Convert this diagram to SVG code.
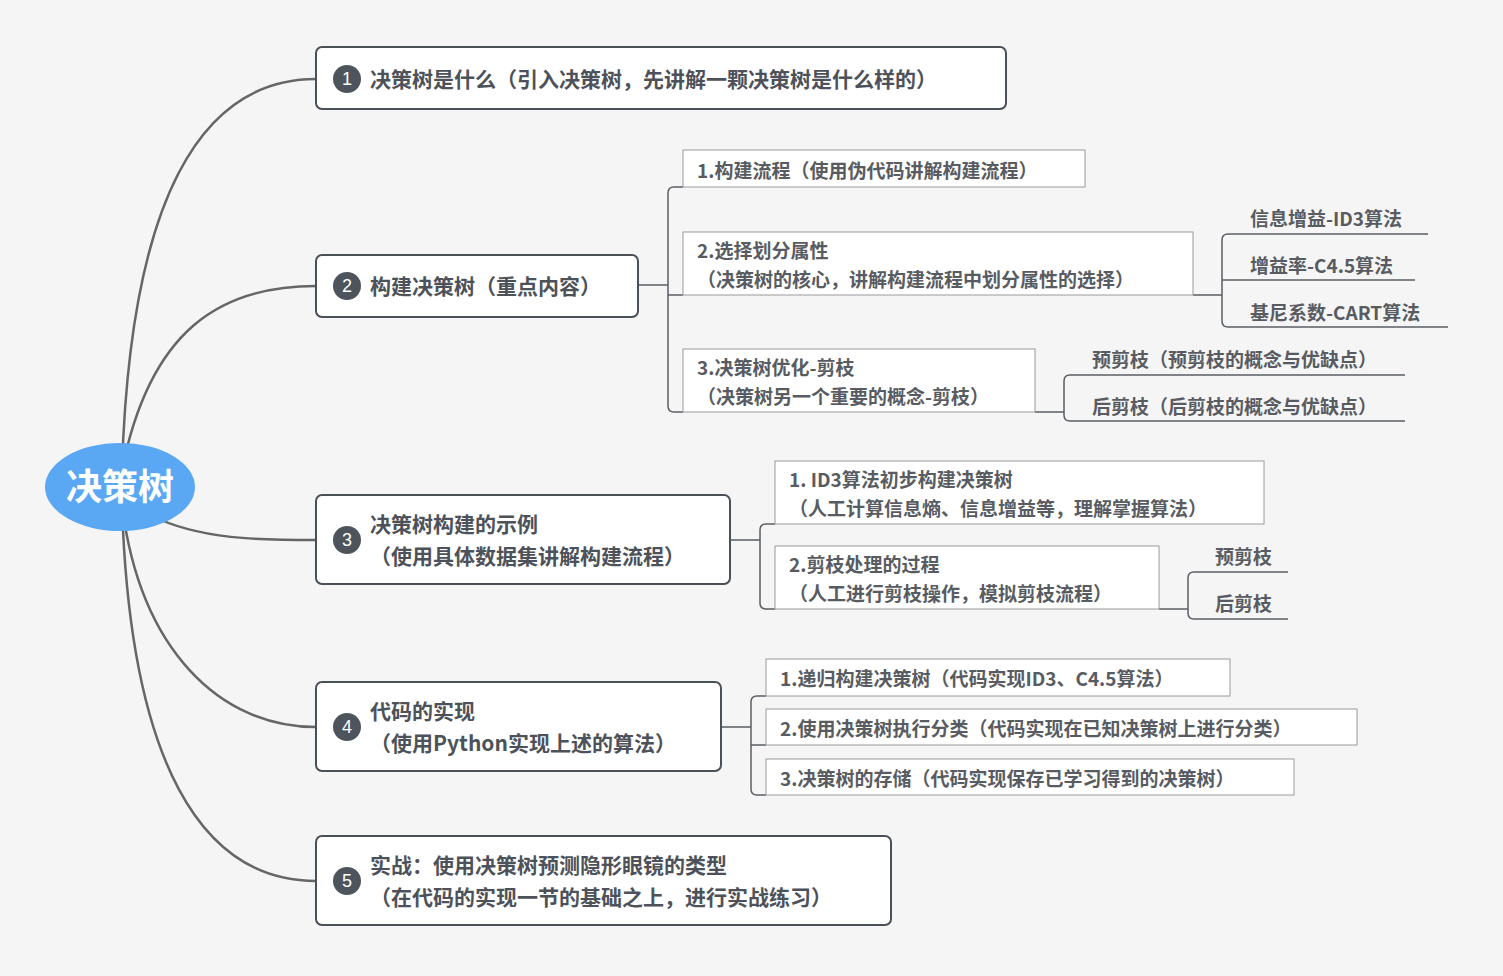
<svg xmlns="http://www.w3.org/2000/svg" width="1503" height="976" viewBox="0 0 1503 976">
<style>
text{font-family:"Noto Sans CJK SC","Liberation Sans",sans-serif;font-weight:bold;fill:#4d525a}
.t1{font-size:21px}
.t2{font-size:19px;fill:#585c62}
.b1{fill:#fff;stroke:#4a5058;stroke-width:2}
.b2{fill:#fff;stroke:#9a9a9a;stroke-width:1}
.c{fill:none;stroke:#666;stroke-width:2.5}
.l{fill:none;stroke:#5a5f66;stroke-width:1.5}
.n{fill:#4d545c}
.nt{fill:#fff;font-size:18px;font-weight:normal;font-family:"Liberation Sans",sans-serif}
</style>
<rect width="1503" height="976" fill="#f5f5f5"/>
<g id="connectors">
<path class="c" d="M122,470 C130,200 200,79 316,79"/>
<path class="c" d="M122,470 C150,330 220,286 316,286"/>
<path class="c" d="M150,515 C200,540 260,540 316,540"/>
<path class="c" d="M122,505 C140,650 220,727 316,727"/>
<path class="c" d="M122,505 C130,760 200,881 316,881"/>
<path class="l" d="M638,285 H668 M683,187 H674 Q668,187 668,193 V406 Q668,412 674,412 H683 M668,295 H683"/>
<path class="l" d="M1193,295 H1222 M1428,234 H1228 Q1222,234 1222,240 V321 Q1222,327 1228,327 H1448 M1222,280 H1415"/>
<path class="l" d="M1035,412 H1064 M1405,375 H1070 Q1064,375 1064,381 V415 Q1064,421 1070,421 H1405"/>
<path class="l" d="M730,540 H760 M775,524 H766 Q760,524 760,530 V603 Q760,609 766,609 H775"/>
<path class="l" d="M1159,609 H1188 M1288,572 H1194 Q1188,572 1188,578 V613 Q1188,619 1194,619 H1288"/>
<path class="l" d="M721,727 H751 M766,696 H757 Q751,696 751,702 V789 Q751,795 757,795 H766 M751,745 H766"/>
</g>
<g id="root">
<ellipse cx="120" cy="487" rx="75" ry="44" fill="#5aa8f3"/>
<text x="120" y="500" text-anchor="middle" style="font-size:36px;fill:#fff">决策树</text>
</g>
<g id="n1"><rect class="b1" x="316" y="47" width="690" height="62" rx="6"/><circle class="n" cx="347" cy="79" r="14"/><text class="nt" x="347" y="85" text-anchor="middle">1</text><text class="t1" x="370" y="87">决策树是什么（引入决策树，先讲解一颗决策树是什么样的）</text></g>
<g id="n2"><rect class="b1" x="316" y="255" width="322" height="62" rx="6"/><circle class="n" cx="347" cy="286" r="14"/><text class="nt" x="347" y="292" text-anchor="middle">2</text><text class="t1" x="370" y="294">构建决策树（重点内容）</text></g>
<g id="n3"><rect class="b1" x="316" y="495" width="414" height="89" rx="6"/><circle class="n" cx="347" cy="540" r="14"/><text class="nt" x="347" y="546" text-anchor="middle">3</text><text class="t1" x="370" y="532">决策树构建的示例</text><text class="t1" x="370" y="564">（使用具体数据集讲解构建流程）</text></g>
<g id="n4"><rect class="b1" x="316" y="682" width="405" height="89" rx="6"/><circle class="n" cx="347" cy="727" r="14"/><text class="nt" x="347" y="733" text-anchor="middle">4</text><text class="t1" x="370" y="719">代码的实现</text><text class="t1" x="370" y="751">（使用Python实现上述的算法）</text></g>
<g id="n5"><rect class="b1" x="316" y="836" width="575" height="89" rx="6"/><circle class="n" cx="347" cy="881" r="14"/><text class="nt" x="347" y="887" text-anchor="middle">5</text><text class="t1" x="370" y="873">实战：使用决策树预测隐形眼镜的类型</text><text class="t1" x="370" y="905">（在代码的实现一节的基础之上，进行实战练习）</text></g>
<g id="n2a"><rect class="b2" x="683" y="150" width="402" height="37"/><text class="t2" x="697" y="178">1.构建流程（使用伪代码讲解构建流程）</text></g>
<g id="n2b"><rect class="b2" x="683" y="232" width="510" height="63"/><text class="t2" x="697" y="258">2.选择划分属性</text><text class="t2" x="697" y="287">（决策树的核心，讲解构建流程中划分属性的选择）</text></g>
<g id="n2c"><rect class="b2" x="683" y="349" width="352" height="63"/><text class="t2" x="697" y="375">3.决策树优化-剪枝</text><text class="t2" x="697" y="404">（决策树另一个重要的概念-剪枝）</text></g>
<g id="n2b1"><text class="t2" x="1250" y="226">信息增益-ID3算法</text></g>
<g id="n2b2"><text class="t2" x="1250" y="273">增益率-C4.5算法</text></g>
<g id="n2b3"><text class="t2" x="1250" y="320">基尼系数-CART算法</text></g>
<g id="n2c1"><text class="t2" x="1092" y="367">预剪枝（预剪枝的概念与优缺点）</text></g>
<g id="n2c2"><text class="t2" x="1092" y="414">后剪枝（后剪枝的概念与优缺点）</text></g>
<g id="n3a"><rect class="b2" x="775" y="461" width="489" height="63"/><text class="t2" x="789" y="487">1. ID3算法初步构建决策树</text><text class="t2" x="789" y="516">（人工计算信息熵、信息增益等，理解掌握算法）</text></g>
<g id="n3b"><rect class="b2" x="775" y="546" width="384" height="63"/><text class="t2" x="789" y="572">2.剪枝处理的过程</text><text class="t2" x="789" y="601">（人工进行剪枝操作，模拟剪枝流程）</text></g>
<g id="n3b1"><text class="t2" x="1215" y="564">预剪枝</text></g>
<g id="n3b2"><text class="t2" x="1215" y="611">后剪枝</text></g>
<g id="n4a"><rect class="b2" x="766" y="659" width="464" height="37"/><text class="t2" x="780" y="686">1.递归构建决策树（代码实现ID3、C4.5算法）</text></g>
<g id="n4b"><rect class="b2" x="766" y="709" width="591" height="36"/><text class="t2" x="780" y="736">2.使用决策树执行分类（代码实现在已知决策树上进行分类）</text></g>
<g id="n4c"><rect class="b2" x="766" y="759" width="528" height="36"/><text class="t2" x="780" y="786">3.决策树的存储（代码实现保存已学习得到的决策树）</text></g>
</svg>
